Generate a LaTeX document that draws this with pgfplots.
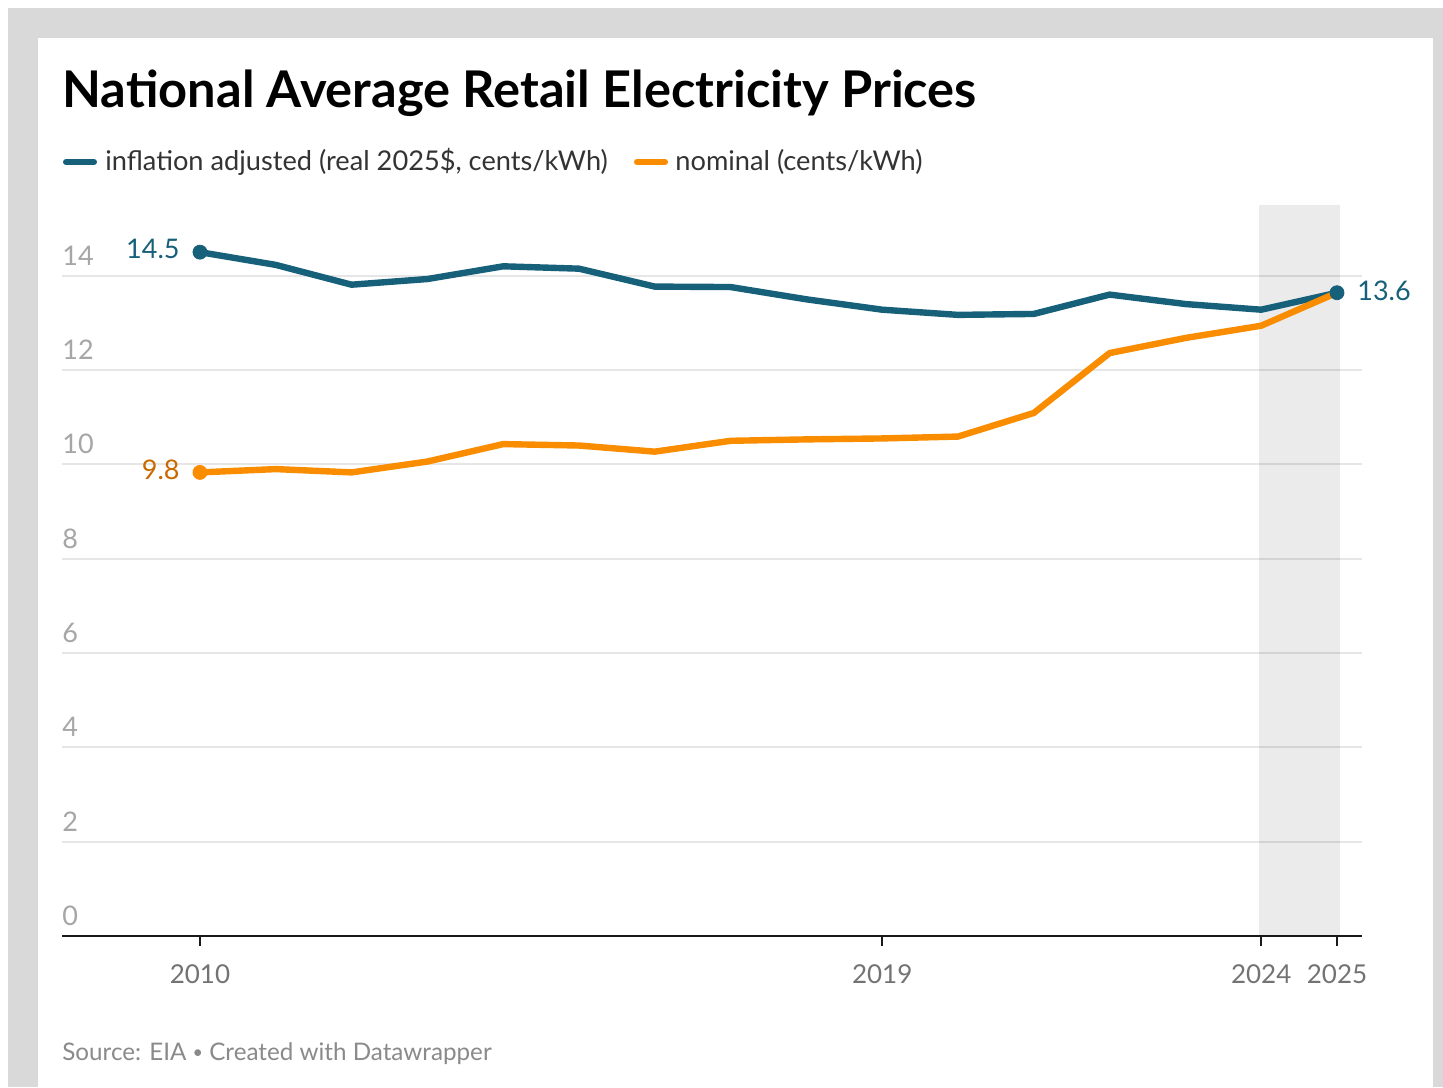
\documentclass[border=0pt]{standalone}
\usepackage{pgfplots}
\pgfplotsset{compat=1.18}
\usepackage{fontspec}
\setmainfont{Lato}
\definecolor{blu}{HTML}{17607A}
\definecolor{ora}{HTML}{FA8C00}
\definecolor{oralab}{HTML}{C96A00}
\definecolor{ytk}{HTML}{A6A6A6}
\definecolor{xtk}{HTML}{737373}
\definecolor{src}{HTML}{8A8A8A}
\definecolor{bgg}{HTML}{D9D9D9}
\definecolor{grd}{HTML}{E6E6E6}
\begin{document}
\begin{tikzpicture}[x=0.5pt,y=0.5pt]
\fill[white] (0,0) rectangle (1443,1087);
\fill[bgg] (8,0) rectangle (1443,1079);
\fill[white] (38,0) rectangle (1433,1049);
\node[anchor=base west, inner sep=0, font=\bfseries\fontsize{25.3}{29}\selectfont] at (62,979) {National Average Retail Electricity Prices};
\draw[blu, line width=3pt, line cap=round] (66,925) -- (94,925);
\node[anchor=west, inner sep=0, font=\fontsize{13.6}{15}\selectfont, text=black!80] at (105,925) {inflation adjusted (real 2025\$, cents/kWh)};
\draw[ora, line width=3pt, line cap=round] (637,925) -- (665,925);
\node[anchor=west, inner sep=0, font=\fontsize{13.6}{15}\selectfont, text=black!80] at (675,925) {nominal (cents/kWh)};
\node[anchor=west, inner sep=0, font=\fontsize{12.1}{14}\selectfont, text=src] at (62,33) {Source: EIA \raisebox{1.3pt}{\fontsize{9}{10}\selectfont•} Created with Datawrapper};
\begin{axis}[
  at={(31pt,75.5pt)}, anchor=south west, scale only axis,
  width=650pt, height=365.5pt,
  xmin=2008.18, xmax=2025.33, ymin=0, ymax=15.5,
  axis x line=bottom, axis y line=left,
  x axis line style={-, black!90, line width=1pt},
  y axis line style={draw=none},
  xtick={2010,2019,2024,2025}, xticklabels={2010,2019,2024,2025},
  ytick={0,2,4,6,8,10,12,14},
  tick align=outside, major tick length=5pt,
  xtick style={black!90, line width=0.8pt},
  ytick style={draw=none},
  ymajorgrids, grid style={grd, line width=1pt},
  /pgf/number format/assume math mode=true,
  xticklabel style={text=xtk, font=\fontsize{13}{15}\selectfont, yshift=-6pt},
  yticklabel style={text=ytk, font=\fontsize{13.5}{15}\selectfont, anchor=south west, inner sep=0pt, xshift=5pt, yshift=5pt},
  clip=false,
]
\fill[black, opacity=0.08] (axis cs:2023.97,0) rectangle (axis cs:2025.04,15.5);
\addplot[blu, line width=3.2pt, line join=round] coordinates {
(2010,14.50) (2011,14.23) (2012,13.81) (2013,13.93) (2014,14.20) (2015,14.15)
(2016,13.77) (2017,13.76) (2018,13.50) (2019,13.28) (2020,13.17) (2021,13.19)
(2022,13.60) (2023,13.40) (2024,13.28) (2025,13.64)};
\addplot[ora, line width=3.2pt, line join=round] coordinates {
(2010,9.83) (2011,9.90) (2012,9.83) (2013,10.06) (2014,10.43) (2015,10.40)
(2016,10.27) (2017,10.50) (2018,10.53) (2019,10.55) (2020,10.59) (2021,11.09)
(2022,12.36) (2023,12.68) (2024,12.94) (2025,13.64)};
\addplot[only marks, mark=*, mark size=3.5pt, blu] coordinates {(2010,14.50) (2025,13.64)};
\addplot[only marks, mark=*, mark size=3.5pt, ora] coordinates {(2010,9.83)};
\node[anchor=east, inner sep=0, text=blu, font=\fontsize{13.5}{15}\selectfont, xshift=-10pt, yshift=1.5pt] at (axis cs:2010,14.50) {14.5};
\node[anchor=east, inner sep=0, text=oralab, font=\fontsize{13.5}{15}\selectfont, xshift=-10pt, yshift=1.5pt] at (axis cs:2010,9.83) {9.8};
\node[anchor=west, inner sep=0, text=blu, font=\fontsize{13.5}{15}\selectfont, xshift=10pt, yshift=1pt] at (axis cs:2025,13.64) {13.6};
\end{axis}
\end{tikzpicture}
\end{document}
